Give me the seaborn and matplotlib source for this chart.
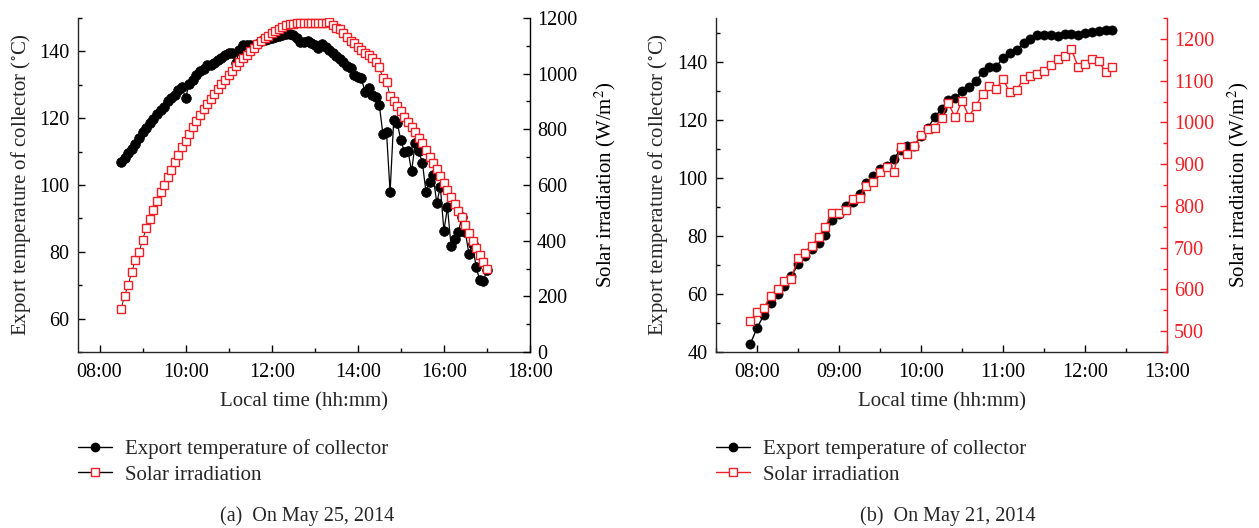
import numpy as np
import pandas as pd
import matplotlib
matplotlib.use("Agg")
import matplotlib.pyplot as plt
import seaborn as sns
from matplotlib.ticker import MultipleLocator, FuncFormatter
from matplotlib.lines import Line2D

# ---------------- data ----------------
sample_step = "5min"

# (a) On May 25, 2014 -- samples every 5 min from 08:30
a_start = "2014-05-25 08:30"
a_temp = [106.8, 108.0, 109.5, 110.8, 112.3, 114.0, 116.0, 117.0, 118.5, 119.8,
          121.3, 122.5, 123.5, 125.2, 126.0, 126.8, 128.3, 129.2, 126.0, 130.3,
          131.5, 133.0, 134.0, 134.8, 135.8, 136.0, 136.5, 137.3, 138.0, 138.8,
          139.4, 139.4, 136.5, 140.5, 141.8, 141.8, 141.8, 142.0, 142.3, 143.0,
          143.5, 143.8, 144.0,
          144.4, 144.7, 145.0, 145.3, 145.2, 145.0, 144.0, 142.7, 142.7, 143.2,
          142.6, 141.9, 140.9, 142.2, 141.4, 140.4, 139.4, 138.6, 137.6, 136.7,
          135.6, 134.9, 132.9, 132.4, 131.9, 127.9, 128.9, 126.9, 126.4, 123.9,
          115.2, 115.9, 97.8, 119.4, 118.6, 113.4, 109.9, 110.2, 104.1, 112.6,
          110.2, 106.6, 98.0, 101.0, 103.0, 94.5, 99.5, 86.3, 93.3, 81.7,
          83.7, 85.8, 90.3, 85.8, 79.2, 82.2, 75.3, 71.5, 71.3, 74.5]
a_irr = [155, 202, 241, 289, 331, 358, 402, 444, 478, 509,
         544, 575, 599, 628, 655, 683, 708, 738, 757, 782,
         807, 830, 852, 873, 892, 910, 926, 945, 962, 978,
         994, 1011, 1027, 1042, 1055, 1068, 1080, 1093, 1106, 1116,
         1127, 1137, 1147,
         1155, 1162, 1169, 1174, 1178, 1180, 1181, 1181, 1181, 1183,
         1181, 1181, 1181, 1182, 1183, 1185, 1174, 1165, 1159, 1147,
         1133, 1119, 1109, 1097, 1085, 1075, 1067, 1055, 1043, 1023,
         983, 971, 920, 903, 884, 866, 846, 828, 810, 792,
         768, 750, 726, 702, 678, 656, 634, 606, 582, 558,
         532, 507, 484, 456, 429, 400, 373, 349, 322, 297]

# (b) On May 21, 2014 -- samples every 5 min from 07:55
b_start = "2014-05-21 07:55"
b_temp = [42.7, 48.2, 52.8, 56.8, 60.0, 62.8, 66.0, 70.2, 72.9, 75.4,
          77.5, 80.3, 85.3, 87.6, 90.1, 91.5, 94.5, 98.2, 100.5, 103.0,
          104.1, 106.4, 109.7, 111.0, 111.0, 114.2, 117.1, 120.9, 123.7, 126.7,
          127.5, 129.8, 131.3, 133.2, 136.3, 138.2, 138.2, 141.3, 143.0, 144.1,
          146.4, 147.6, 149.0, 149.0, 149.0, 148.7, 149.6, 149.6, 149.3, 149.9,
          150.1, 150.4, 151.0, 151.0]
b_irr = [524, 546, 556, 585, 602, 621, 626, 674, 688, 704,
         726, 750, 784, 784, 790, 816, 820, 848, 856, 882,
         894, 880, 942, 924, 944, 970, 984, 987, 1011, 1046,
         1012, 1052, 1014, 1039, 1068, 1087, 1080, 1103, 1072, 1078,
         1104, 1111, 1116, 1124, 1137, 1151, 1159, 1175, 1133, 1139,
         1151, 1147, 1121, 1132]

temp_label = "Export temperature of collector"
irr_label = "Solar irradiation"
xlabel = "Local time (hh:mm)"
ylabel_left = "Export temperature of collector (${}^{\\circ}$C)"
ylabel_right = "Solar irradiation (W/m$^{2}$)"
captions = ["(a)  On May 25, 2014", "(b)  On May 21, 2014"]

RED = "#ee1f25"
TICK_FS = 14.5
LABEL_FS = 15
LEGEND_FS = 15
CAPTION_FS = 14.5

# ---------------- style ----------------
sns.set_style("ticks")
plt.rcParams["font.family"] = ["Liberation Serif", "DejaVu Serif"]
plt.rcParams["mathtext.fontset"] = "stix"
plt.rcParams["font.size"] = 14
plt.rcParams["axes.linewidth"] = 1.0


def to_hours(start, n):
    t = pd.date_range(start, periods=n, freq=sample_step)
    return t.hour + t.minute / 60.0


def frame(start, temp, irr):
    h = to_hours(start, len(temp))
    return pd.DataFrame({"hour": h, "temp": temp, "irr": irr})


df_a = frame(a_start, a_temp, a_irr)
df_b = frame(b_start, b_temp, b_irr)

fig = plt.figure(figsize=(12.59, 5.28), dpi=100)
W, H = 1259.0, 528.0
ax_a = fig.add_axes([78 / W, 1 - 352 / H, 452 / W, 334 / H])
ax_b = fig.add_axes([716 / W, 1 - 352 / H, 451 / W, 334 / H])

hfmt = FuncFormatter(lambda v, p: f"{int(round(v)):02d}:00")


def style_axes(ax, ax2, right_color):
    for a in (ax, ax2):
        a.spines["top"].set_visible(False)
    ax2.spines["left"].set_visible(False)
    ax2.spines["bottom"].set_visible(False)
    ax.spines["right"].set_visible(False)
    ax2.spines["right"].set_color(right_color)
    ax.tick_params(which="both", direction="in", top=False, right=False,
                   labelsize=TICK_FS, colors="black", width=1.0)
    ax.tick_params(axis="x", which="major", length=5, pad=8)
    ax.tick_params(axis="y", which="major", length=5, pad=6)
    ax.tick_params(which="minor", length=3)
    ax2.tick_params(which="both", direction="in", labelsize=TICK_FS,
                    colors=right_color, width=1.0)
    ax2.tick_params(which="major", length=5, pad=5)
    ax2.tick_params(which="minor", length=3)
    ax.set_xlabel(xlabel, fontsize=LABEL_FS, labelpad=7)
    ax.set_ylabel(ylabel_left, fontsize=LABEL_FS)
    ax2.set_ylabel(ylabel_right, fontsize=LABEL_FS, color="black")
    ax.xaxis.set_major_formatter(hfmt)


# ---- panel (a)
ax2_a = ax_a.twinx()
sns.lineplot(data=df_a, x="hour", y="temp", ax=ax_a, color="black", lw=0.9,
             marker="o", markersize=7.0, markerfacecolor="black",
             markeredgecolor="black", markeredgewidth=0.5, label=temp_label,
             legend=False)
sns.lineplot(data=df_a, x="hour", y="irr", ax=ax2_a, color="black", lw=0.6,
             marker="s", markersize=5.6, markerfacecolor="white",
             markeredgecolor=RED, markeredgewidth=1.0, label=irr_label,
             legend=False)
ax_a.set_xlim(7.5, 18)
ax_a.set_ylim(50, 150)
ax2_a.set_ylim(0, 1200)
ax_a.xaxis.set_major_locator(MultipleLocator(2))
ax_a.xaxis.set_minor_locator(MultipleLocator(1))
ax_a.yaxis.set_major_locator(MultipleLocator(20))
ax_a.yaxis.set_minor_locator(MultipleLocator(10))
ax2_a.yaxis.set_major_locator(MultipleLocator(200))
ax2_a.yaxis.set_minor_locator(MultipleLocator(100))
style_axes(ax_a, ax2_a, "black")
ax_a.set_yticks([60, 80, 100, 120, 140])

# ---- panel (b)
ax2_b = ax_b.twinx()
sns.lineplot(data=df_b, x="hour", y="temp", ax=ax_b, color="black", lw=1.0,
             marker="o", markersize=6.6, markerfacecolor="black",
             markeredgecolor="black", markeredgewidth=0.5, label=temp_label,
             legend=False)
sns.lineplot(data=df_b, x="hour", y="irr", ax=ax2_b, color=RED, lw=1.0,
             marker="s", markersize=5.6, markerfacecolor="white",
             markeredgecolor=RED, markeredgewidth=1.0, label=irr_label,
             legend=False)
ax_b.set_xlim(7.5, 13)
ax_b.set_ylim(40, 155)
ax2_b.set_ylim(450, 1250)
ax_b.xaxis.set_major_locator(MultipleLocator(1))
ax_b.xaxis.set_minor_locator(MultipleLocator(0.5))
ax_b.yaxis.set_major_locator(MultipleLocator(20))
ax_b.yaxis.set_minor_locator(MultipleLocator(10))
ax2_b.yaxis.set_major_locator(MultipleLocator(100))
ax2_b.yaxis.set_minor_locator(MultipleLocator(50))
style_axes(ax_b, ax2_b, RED)
ax_b.set_yticks([40, 60, 80, 100, 120, 140])
ax2_b.set_yticks([500, 600, 700, 800, 900, 1000, 1100, 1200])

# y-label placement
for ax, ax2, lx, rx in [(ax_a, ax2_a, -0.126, 1.166), (ax_b, ax2_b, -0.128, 1.157)]:
    ax.yaxis.set_label_coords(lx, 0.5)
    ax.yaxis.label.set_va("center")
    ax2.yaxis.set_label_coords(rx, 0.5)
    ax2.yaxis.label.set_va("center")

# ---- legends
def legend_for(ax, ax2, x):
    l1 = ax.get_lines()[0]
    l2 = ax2.get_lines()[0]
    h1 = Line2D([], [], color=l1.get_color(), lw=1.0, marker="o", markersize=6,
                markerfacecolor="black", markeredgecolor="black")
    h2 = Line2D([], [], color=l2.get_color(), lw=1.0, marker="s", markersize=5.5,
                markerfacecolor="white", markeredgecolor=RED, markeredgewidth=1.0)
    fig.legend([h1, h2], [temp_label, irr_label], loc="upper left",
               bbox_to_anchor=(x, 1 - 439 / H), frameon=False, fontsize=LEGEND_FS,
               handlelength=1.65, handletextpad=0.6, labelspacing=0.3,
               borderaxespad=0, borderpad=0)


legend_for(ax_a, ax2_a, 78 / W)
legend_for(ax_b, ax2_b, 716 / W)

fig.text(307 / W, 1 - 516 / H, captions[0], ha="center", va="center", fontsize=CAPTION_FS)
fig.text(948 / W, 1 - 516 / H, captions[1], ha="center", va="center", fontsize=CAPTION_FS)

fig.savefig("out.png", dpi=100)
